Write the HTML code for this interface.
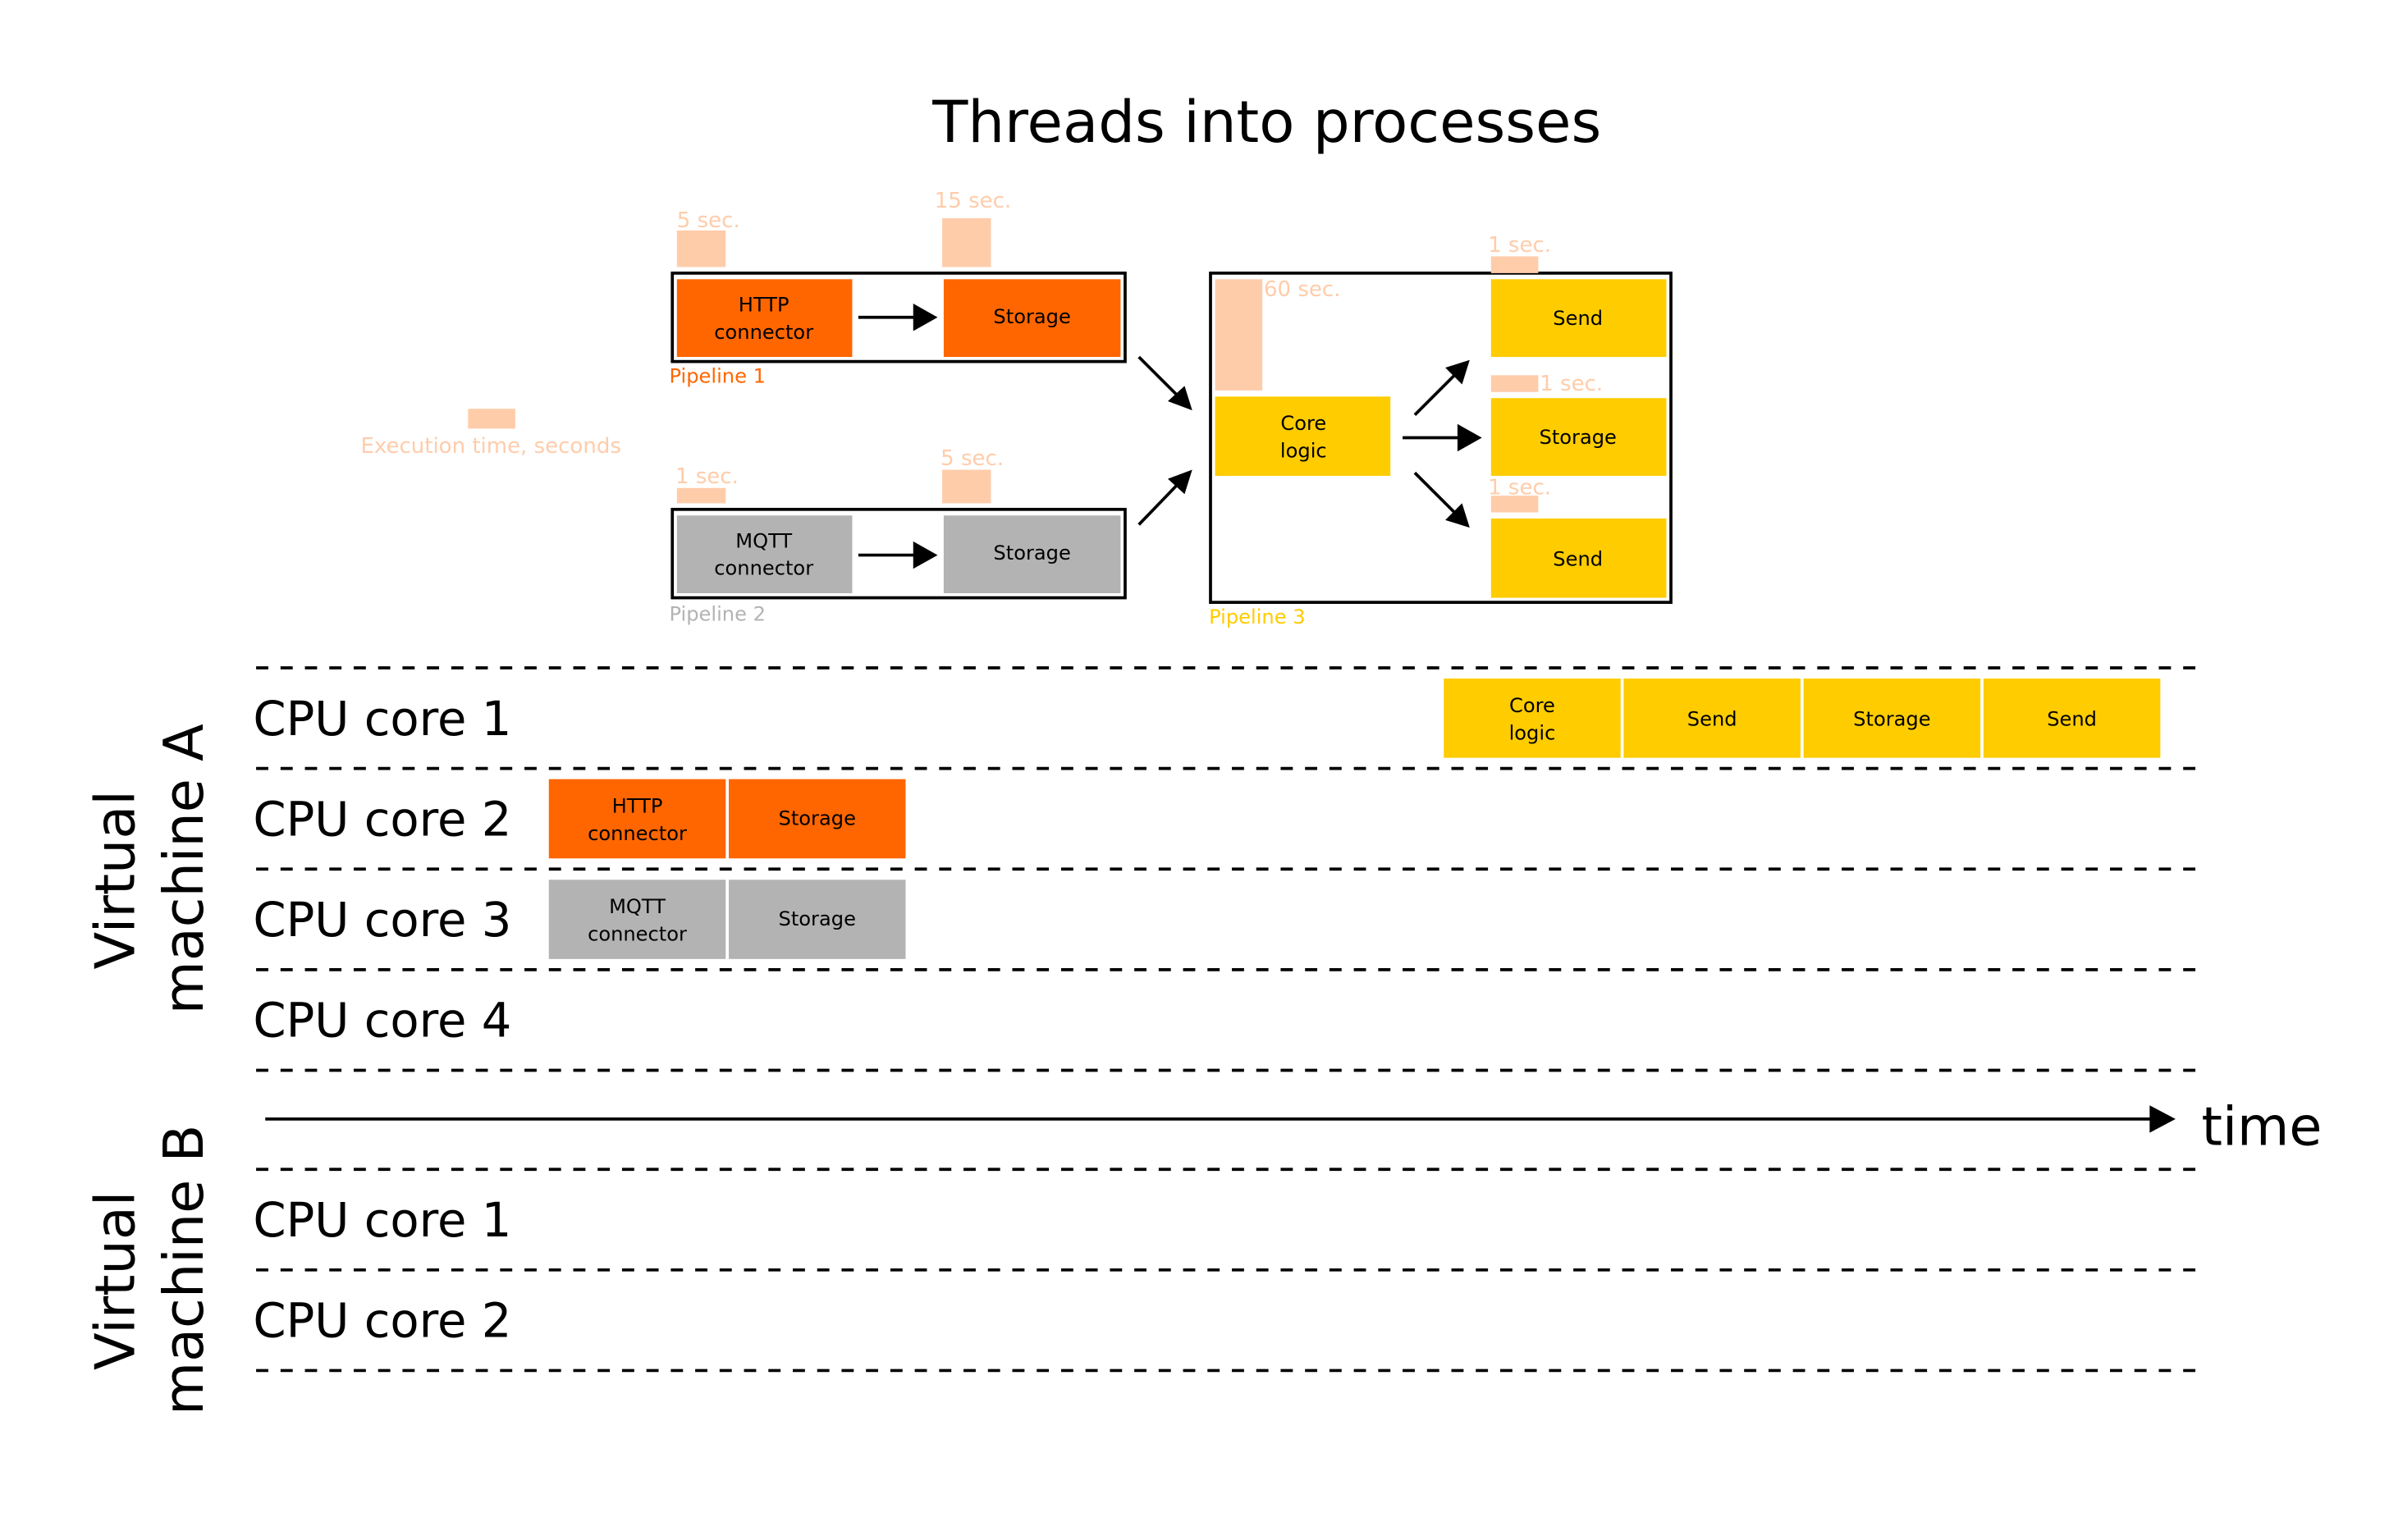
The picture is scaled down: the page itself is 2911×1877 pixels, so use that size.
<!DOCTYPE html>
<html><head><meta charset="utf-8"><style>html,body{margin:0;padding:0;background:#fff}svg{display:block}</style></head>
<body>
<svg width="2911" height="1877" viewBox="0 0 1567 1010" xmlns="http://www.w3.org/2000/svg" font-family="'DejaVu Sans','Liberation Sans',sans-serif">
<rect width="1567" height="1010" fill="#fff"/>
<text x="831" y="93" font-size="38" text-anchor="middle">Threads into processes</text>

<rect x="307" y="268" width="31" height="13" fill="#FFCCAA"/>
<text x="322" y="297" font-size="14" fill="#FFCCAA" text-anchor="middle">Execution time, seconds</text>

<rect x="441" y="179" width="297" height="58" fill="none" stroke="#000" stroke-width="2"/>
<rect x="444" y="183" width="115" height="51" fill="#FF6600"/>
<rect x="619" y="183" width="116" height="51" fill="#FF6600"/>
<text x="501" y="204" font-size="13" text-anchor="middle">HTTP</text>
<text x="501" y="222" font-size="13" text-anchor="middle">connector</text>
<text x="677" y="212" font-size="13" text-anchor="middle">Storage</text>
<line x1="563" y1="208" x2="605" y2="208" stroke="#000" stroke-width="2"/>
<path d="M599,199 L615,208 L599,217 z"/>
<text x="439" y="251" font-size="13" fill="#FF6600">Pipeline 1</text>
<rect x="444" y="151" width="32" height="24" fill="#FFCCAA"/>
<text x="444" y="149" font-size="14" fill="#FFCCAA">5 sec.</text>
<rect x="618" y="143" width="32" height="32" fill="#FFCCAA"/>
<text x="613" y="136" font-size="14" fill="#FFCCAA">15 sec.</text>

<rect x="441" y="334" width="297" height="58" fill="none" stroke="#000" stroke-width="2"/>
<rect x="444" y="338" width="115" height="51" fill="#B3B3B3"/>
<rect x="619" y="338" width="116" height="51" fill="#B3B3B3"/>
<text x="501" y="359" font-size="13" text-anchor="middle">MQTT</text>
<text x="501" y="377" font-size="13" text-anchor="middle">connector</text>
<text x="677" y="367" font-size="13" text-anchor="middle">Storage</text>
<line x1="563" y1="364" x2="605" y2="364" stroke="#000" stroke-width="2"/>
<path d="M599,355 L615,364 L599,373 z"/>
<text x="439" y="407" font-size="13" fill="#B3B3B3">Pipeline 2</text>
<rect x="444" y="320" width="32" height="10" fill="#FFCCAA"/>
<text x="443" y="317" font-size="14" fill="#FFCCAA">1 sec.</text>
<rect x="618" y="308" width="32" height="22" fill="#FFCCAA"/>
<text x="617" y="305" font-size="14" fill="#FFCCAA">5 sec.</text>

<line x1="747" y1="234" x2="774" y2="261" stroke="#000" stroke-width="2"/>
<path d="M766,263 L782,269 L777,253 z"/>
<line x1="747" y1="344" x2="774" y2="316" stroke="#000" stroke-width="2"/>
<path d="M766,314 L782,308 L777,324 z"/>

<rect x="794" y="179" width="302" height="216" fill="none" stroke="#000" stroke-width="2"/>
<rect x="797" y="183" width="31" height="73" fill="#FFCCAA"/>
<text x="829" y="194" font-size="14" fill="#FFCCAA">60 sec.</text>
<rect x="797" y="260" width="115" height="52" fill="#FFCC00"/>
<text x="855" y="282" font-size="13" text-anchor="middle">Core</text>
<text x="855" y="300" font-size="13" text-anchor="middle">logic</text>
<rect x="978" y="183" width="115" height="51" fill="#FFCC00"/>
<text x="1035" y="213" font-size="13" text-anchor="middle">Send</text>
<rect x="978" y="261" width="115" height="51" fill="#FFCC00"/>
<text x="1035" y="291" font-size="13" text-anchor="middle">Storage</text>
<rect x="978" y="340" width="115" height="52" fill="#FFCC00"/>
<text x="1035" y="371" font-size="13" text-anchor="middle">Send</text>
<rect x="978" y="168" width="31" height="11" fill="#FFCCAA"/>
<text x="976" y="165" font-size="14" fill="#FFCCAA">1 sec.</text>
<rect x="978" y="246" width="31" height="11" fill="#FFCCAA"/>
<text x="1010" y="256" font-size="14" fill="#FFCCAA">1 sec.</text>
<rect x="978" y="325" width="31" height="11" fill="#FFCCAA"/>
<text x="976" y="324" font-size="14" fill="#FFCCAA">1 sec.</text>
<line x1="928" y1="272" x2="957" y2="243" stroke="#000" stroke-width="2"/>
<path d="M948,241 L964,236 L959,252 z"/>
<line x1="920" y1="287" x2="962" y2="287" stroke="#000" stroke-width="2"/>
<path d="M956,278 L972,287 L956,296 z"/>
<line x1="928" y1="310" x2="957" y2="339" stroke="#000" stroke-width="2"/>
<path d="M948,341 L964,346 L959,330 z"/>
<text x="793" y="409" font-size="13" fill="#FFCC00">Pipeline 3</text>

<g stroke="#000" stroke-width="2" stroke-dasharray="8,8">
<line x1="168" y1="438" x2="1442" y2="438"/>
<line x1="168" y1="504" x2="1442" y2="504"/>
<line x1="168" y1="570" x2="1442" y2="570"/>
<line x1="168" y1="636" x2="1442" y2="636"/>
<line x1="168" y1="702" x2="1442" y2="702"/>
<line x1="168" y1="767" x2="1442" y2="767"/>
<line x1="168" y1="833" x2="1442" y2="833"/>
<line x1="168" y1="899" x2="1442" y2="899"/>
</g>

<g font-size="31">
<text x="166" y="482">CPU core 1</text>
<text x="166" y="548">CPU core 2</text>
<text x="166" y="614">CPU core 3</text>
<text x="166" y="680">CPU core 4</text>
<text x="166" y="811">CPU core 1</text>
<text x="166" y="877">CPU core 2</text>
</g>

<g font-size="36" text-anchor="middle">
<text transform="translate(88,577) rotate(-90)">Virtual</text>
<text transform="translate(133,570) rotate(-90)">machine A</text>
<text transform="translate(88,840) rotate(-90)">Virtual</text>
<text transform="translate(133,833) rotate(-90)">machine B</text>
</g>

<rect x="947" y="445" width="116" height="52" fill="#FFCC00"/>
<rect x="1065" y="445" width="116" height="52" fill="#FFCC00"/>
<rect x="1183" y="445" width="116" height="52" fill="#FFCC00"/>
<rect x="1301" y="445" width="116" height="52" fill="#FFCC00"/>
<text x="1005" y="467" font-size="13" text-anchor="middle">Core</text>
<text x="1005" y="485" font-size="13" text-anchor="middle">logic</text>
<text x="1123" y="476" font-size="13" text-anchor="middle">Send</text>
<text x="1241" y="476" font-size="13" text-anchor="middle">Storage</text>
<text x="1359" y="476" font-size="13" text-anchor="middle">Send</text>

<rect x="360" y="511" width="116" height="52" fill="#FF6600"/>
<rect x="478" y="511" width="116" height="52" fill="#FF6600"/>
<text x="418" y="533" font-size="13" text-anchor="middle">HTTP</text>
<text x="418" y="551" font-size="13" text-anchor="middle">connector</text>
<text x="536" y="541" font-size="13" text-anchor="middle">Storage</text>

<rect x="360" y="577" width="116" height="52" fill="#B3B3B3"/>
<rect x="478" y="577" width="116" height="52" fill="#B3B3B3"/>
<text x="418" y="599" font-size="13" text-anchor="middle">MQTT</text>
<text x="418" y="617" font-size="13" text-anchor="middle">connector</text>
<text x="536" y="607" font-size="13" text-anchor="middle">Storage</text>

<line x1="174" y1="734" x2="1412" y2="734" stroke="#000" stroke-width="2"/>
<path d="M1410,725 L1427,734 L1410,743 z"/>
<text x="1444" y="751" font-size="35">time</text>
</svg>
</body></html>
